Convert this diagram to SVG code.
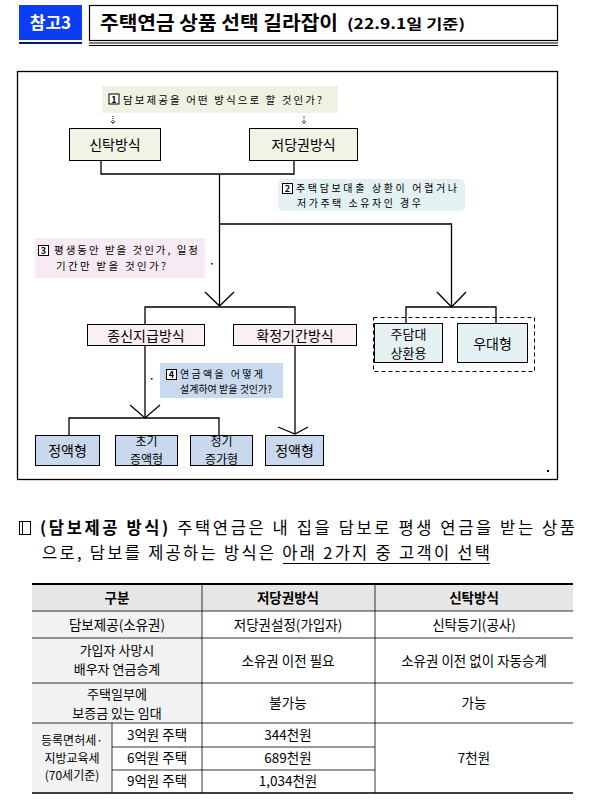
<svg xmlns="http://www.w3.org/2000/svg" width="593" height="805" viewBox="0 0 593 805">
<defs>
<style>
text{font-family:"Noto Sans CJK KR","Noto Sans",sans-serif;fill:#000}
.box{stroke:#000;stroke-width:1}
.lbl{font-size:14px;text-anchor:middle}
.lbl2{font-size:12px;text-anchor:middle}
.lbl3{font-size:13px;text-anchor:middle}
.q{font-size:10.5px}
.q2{font-size:10px}
.ln{stroke:#000;stroke-width:1.3;fill:none}
.num{fill:#fff;stroke:#000;stroke-width:1}
.numt{font-size:9px;font-weight:bold;text-anchor:middle}
.td{font-size:13.5px;text-anchor:middle}
.td2{font-size:13px;text-anchor:middle}
.td3{font-size:12px;text-anchor:middle}
.th{font-size:13.5px;font-weight:bold;text-anchor:middle}
.grid{stroke:#000;stroke-width:0.8}
</style>
</defs>
<rect width="593" height="805" fill="#fff"/>
<!-- title -->
<g id="title">
<rect x="19" y="5" width="63" height="35" fill="#0b3df5"/>
<text x="50.5" y="29" font-size="17" font-weight="bold" text-anchor="middle" style="fill:#fff">참고3</text>
<line x1="19" y1="43" x2="82" y2="43" stroke="#0a1a70" stroke-width="2"/>
<rect x="89.5" y="5.5" width="468" height="35" fill="#fff" stroke="#000" stroke-width="1.2"/>
<text x="100" y="30" font-size="19" font-weight="bold" textLength="238" lengthAdjust="spacingAndGlyphs">주택연금 상품 선택 길라잡이</text>
<text x="347" y="29" font-size="14" font-weight="bold" textLength="118" lengthAdjust="spacingAndGlyphs">(22.9.1일 기준)</text>
<line x1="89" y1="43" x2="558" y2="43" stroke="#000" stroke-width="1"/>
<line x1="89" y1="45.5" x2="558" y2="45.5" stroke="#000" stroke-width="1"/>
</g>
<!-- frame -->
<rect x="17.5" y="71.5" width="540" height="408" fill="none" stroke="#000" stroke-width="1.3"/>
<!-- connectors -->
<g id="connectors">
<path class="ln" d="M101 160 V174 H294 V160"/>
<path class="ln" d="M219.5 174 V306"/>
<path class="ln" d="M205 292 L219.5 306 L234 292"/>
<path class="ln" d="M219.5 224 H451.5 V307"/>
<path class="ln" d="M437 292 L451.5 307 L466 292"/>
<path class="ln" d="M406 323 V307 H496 V323"/>
<path class="ln" d="M145 325 V307 H295 V325"/>
<path class="ln" d="M145 346 V418"/>
<path class="ln" d="M130 405 L145 418 L160 405"/>
<path class="ln" d="M69 435 V418 H219 V435"/>
<path class="ln" d="M295 346 V434"/>
<path class="ln" d="M278 427 L295 434 L308 427"/>
<path d="M113 116 V123 M304 116 V123" stroke="#000" stroke-width="1" stroke-dasharray="1,1" fill="none"/>
<path d="M111 121 L113 123.5 L115 121 M302 121 L304 123.5 L306 121" stroke="#000" stroke-width="0.8" fill="none"/>
</g>
<!-- Q1 -->
<g id="q1">
<rect x="102" y="86" width="236" height="27" fill="#eef2e3"/>
<rect class="num" x="109" y="94" width="10" height="10"/>
<text class="numt" x="114" y="102.5">1</text>
<text class="q" x="123" y="103.5" textLength="199" lengthAdjust="spacing">담보제공을 어떤 방식으로 할 것인가?</text>
</g>
<g id="n-sintak"><rect class="box" x="69.5" y="128.5" width="91" height="32" fill="#f1f4e5"/><text class="lbl" x="115" y="149.5">신탁방식</text></g>
<g id="n-jeodang"><rect class="box" x="249.5" y="128.5" width="108" height="32" fill="#f1f4e5"/><text class="lbl" x="303.5" y="149.5">저당권방식</text></g>
<!-- Q2 -->
<g id="q2">
<rect x="278" y="179" width="187" height="32" rx="5" fill="#e4f1f3"/>
<rect class="num" x="282.5" y="183.5" width="10" height="10"/>
<text class="numt" x="287.5" y="192">2</text>
<text class="q2" x="296" y="192"><tspan textLength="161" lengthAdjust="spacing">주택담보대출 상환이 어렵거나</tspan><tspan x="297" dy="14.6" textLength="124" lengthAdjust="spacing">저가주택 소유자인 경우</tspan></text>
</g>
<!-- Q3 -->
<g id="q3">
<rect x="35" y="238" width="170" height="40" fill="#f6ebf2"/>
<rect class="num" x="38.5" y="245.5" width="10" height="10"/>
<text class="numt" x="43.5" y="254">3</text>
<text class="q" x="54" y="254"><tspan textLength="144" lengthAdjust="spacing">평생동안 받을 것인가, 일정</tspan><tspan x="56" dy="16" textLength="110" lengthAdjust="spacing">기간만 받을 것인가?</tspan></text>
</g>
<rect x="211" y="263" width="1.5" height="1.5" fill="#000"/>
<g id="n-jongsin"><rect class="box" x="87.5" y="324.5" width="117" height="21" fill="#f9eff5"/><text class="lbl" x="146" y="340.5">종신지급방식</text></g>
<g id="n-hwakjeong"><rect class="box" x="233.5" y="324.5" width="123" height="21" fill="#f9eff5"/><text class="lbl" x="295" y="340.5">확정기간방식</text></g>
<!-- dashed group -->
<rect x="373.5" y="317.5" width="161" height="54" fill="none" stroke="#000" stroke-width="1" stroke-dasharray="4,3"/>
<g id="n-judamdae"><rect class="box" x="374.5" y="323.5" width="68" height="39" fill="#e6f1f3"/><text class="lbl3" x="408.5" y="339">주담대<tspan x="408.5" dy="19">상환용</tspan></text></g>
<g id="n-udae"><rect class="box" x="457.5" y="323.5" width="70" height="39" fill="#e6f1f3"/><text class="lbl" x="492.5" y="348.5">우대형</text></g>
<!-- Q4 -->
<g id="q4">
<rect x="160" y="363" width="123" height="35" fill="#c9daee"/>
<rect class="num" x="166.5" y="369.5" width="10" height="10"/>
<text class="numt" x="171.5" y="378">4</text>
<text class="q2" x="180" y="378"><tspan textLength="83" lengthAdjust="spacing">연금액을 어떻게</tspan><tspan x="180" dy="15" textLength="92" lengthAdjust="spacing">설계하여 받을 것인가?</tspan></text>
</g>
<rect x="151" y="378" width="1.5" height="1.5" fill="#000"/>
<g id="n-jeongaek1"><rect class="box" x="35.5" y="435.5" width="64" height="30" fill="#c9d8ec"/><text class="lbl" x="67.5" y="456">정액형</text></g>
<g id="n-chogi"><rect class="box" x="115.5" y="435.5" width="62" height="30" fill="#c9d8ec"/><text class="lbl2" x="146.5" y="445.5">초기<tspan x="146.5" dy="18">증액형</tspan></text></g>
<g id="n-jeonggi"><rect class="box" x="190.5" y="435.5" width="62" height="30" fill="#c9d8ec"/><text class="lbl2" x="221.5" y="445.5">정기<tspan x="221.5" dy="18">증가형</tspan></text></g>
<g id="n-jeongaek2"><rect class="box" x="265.5" y="435.5" width="58" height="30" fill="#c9d8ec"/><text class="lbl" x="294.5" y="456">정액형</text></g>
<rect x="547" y="470" width="2" height="2" fill="#000"/>
<!-- body text -->
<g id="body">
<rect x="19.5" y="521.5" width="11" height="13" fill="none" stroke="#000" stroke-width="1"/>
<line x1="22.5" y1="521.5" x2="22.5" y2="534.5" stroke="#000" stroke-width="1"/>
<text x="40" y="534" font-size="16.5" textLength="535" lengthAdjust="spacing"><tspan font-weight="bold">(담보제공 방식)</tspan> 주택연금은 내 집을 담보로 평생 연금을 받는 상품</text>
<text x="42" y="559" font-size="16.5" textLength="448" lengthAdjust="spacing">으로, 담보를 제공하는 방식은 아래 2가지 중 고객이 선택</text>
<line x1="283" y1="563.5" x2="490" y2="563.5" stroke="#000" stroke-width="1"/>
</g>
<!-- table -->
<g id="table">
<rect x="32" y="584" width="541" height="27" fill="#e6e6e6"/>
<rect x="32" y="611" width="170" height="112" fill="#f2f2f2"/>
<rect x="32" y="723" width="80" height="70" fill="#f2f2f2"/>
<line x1="32" y1="584" x2="573" y2="584" stroke="#000" stroke-width="2"/>
<line x1="32" y1="793" x2="573" y2="793" stroke="#000" stroke-width="1.5"/>
<line class="grid" x1="32" y1="611" x2="573" y2="611"/>
<line class="grid" x1="32" y1="638" x2="573" y2="638"/>
<line class="grid" x1="32" y1="683" x2="573" y2="683"/>
<line class="grid" x1="32" y1="723" x2="573" y2="723"/>
<line class="grid" x1="112" y1="747" x2="375" y2="747"/>
<line class="grid" x1="112" y1="770" x2="375" y2="770"/>
<line class="grid" x1="202" y1="584" x2="202" y2="793"/>
<line class="grid" x1="375" y1="584" x2="375" y2="793"/>
<line class="grid" x1="112" y1="723" x2="112" y2="793"/>
<text class="th" x="117" y="603">구분</text>
<text class="th" x="288" y="603">저당권방식</text>
<text class="th" x="474" y="603">신탁방식</text>
<text class="td" x="117" y="630">담보제공(소유권)</text>
<text class="td" x="288" y="630">저당권설정(가입자)</text>
<text class="td" x="474" y="630">신탁등기(공사)</text>
<text class="td2" x="117" y="655">가입자 사망시<tspan x="117" dy="19">배우자 연금승계</tspan></text>
<text class="td" x="288" y="666">소유권 이전 필요</text>
<text class="td" x="474" y="666">소유권 이전 없이 자동승계</text>
<text class="td2" x="117" y="699">주택일부에<tspan x="117" dy="19">보증금 있는 임대</tspan></text>
<text class="td" x="288" y="708">불가능</text>
<text class="td" x="474" y="708">가능</text>
<text class="td3" x="72" y="745">등록면허세·<tspan x="72" dy="17.6">지방교육세</tspan><tspan x="72" dy="17.6">(70세기준)</tspan></text>
<text class="td" x="157" y="740">3억원 주택</text>
<text class="td" x="157" y="763">6억원 주택</text>
<text class="td" x="157" y="786">9억원 주택</text>
<text class="td" x="288" y="740">344천원</text>
<text class="td" x="288" y="763">689천원</text>
<text class="td" x="288" y="786">1,034천원</text>
<text class="td" x="474" y="763">7천원</text>
</g>
</svg>
